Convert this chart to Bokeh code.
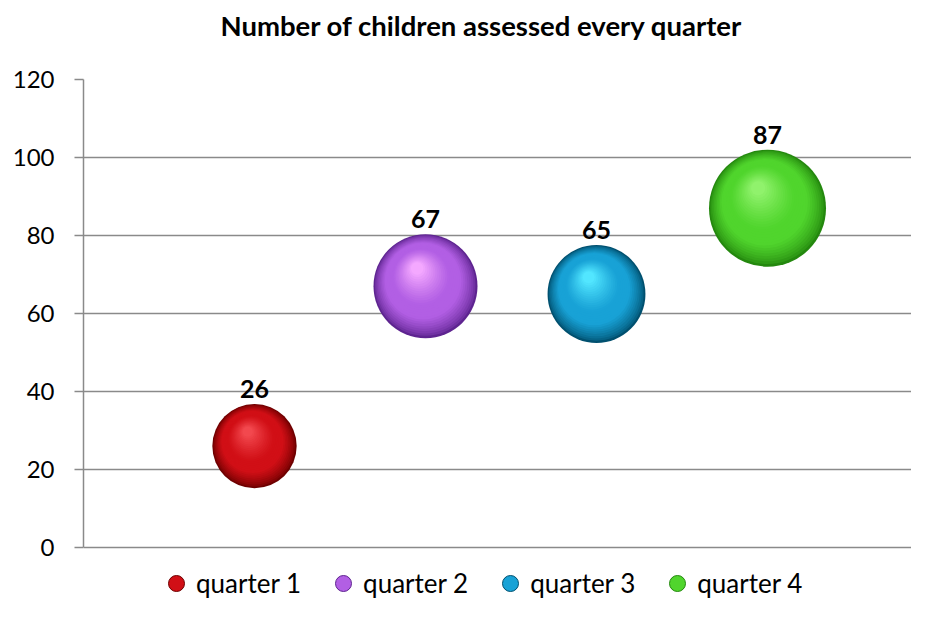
from bokeh.plotting import figure
from bokeh.models import Range1d, FixedTicker, Legend, LegendItem, Title
from bokeh.embed import file_html
from bokeh.resources import INLINE
from bokeh.core.properties import value

# ---------------- data ----------------
quarters = ["quarter 1", "quarter 2", "quarter 3", "quarter 4"]
x_pos = [1, 2, 3, 4]
children = [26, 67, 65, 87]
bubble_size = [0.52, 0.79, 0.70, 1.00]      # relative bubble areas
y_ticks = [0, 20, 40, 60, 80, 100, 120]
title_text = "Number of children assessed every quarter"

# ---------------- layout / style ----------------
W, H = 911, 601
ML, MR, MT, MB = 83, 0, 79, 0
FW, FH = W - ML - MR, H - MT - MB
PX_Y = 3.9                      # pixels per y unit
PX_X = 171.0                    # pixels per x unit
X_END = FW / PX_X
Y_END = 120
Y_START = Y_END - FH / PX_Y     # extra room below 0 for the legend
MAX_D = 117
GRID = "#8a8a8a"
FONT = "Lato"

# (edge, mid, light) per series
palettes = [
    ("#6e0000", "#d10f16", "#f2484e"),
    ("#5e2490", "#b25fe4", "#f4a8ff"),
    ("#00506f", "#18a2d6", "#52e6ff"),
    ("#24880e", "#50d52d", "#90f26c"),
]


def hex2rgb(h):
    h = h.lstrip("#")
    return tuple(int(h[i:i + 2], 16) for i in (0, 2, 4))


def mix(c1, c2, t):
    a, b = hex2rgb(c1), hex2rgb(c2)
    return "#%02x%02x%02x" % tuple(int(round(a[k] + (b[k] - a[k]) * t)) for k in range(3))


def ramp(pal, t):
    edge, mid, light = pal
    if t < 0.3:
        return mix(edge, mid, (t / 0.3) ** 0.7)
    if t < 0.5:
        return mid
    return mix(mid, light, ((t - 0.5) / 0.5) ** 1.2)


diam = [MAX_D * s ** 0.5 for s in bubble_size]

p = figure(width=W, height=H, x_range=Range1d(0, X_END), y_range=Range1d(Y_START, Y_END),
           output_backend="svg", toolbar_location=None,
           min_border_left=ML, min_border_right=MR, min_border_top=MT, min_border_bottom=MB)
p.background_fill_color = "white"
p.border_fill_color = "white"
p.outline_line_color = None
p.xaxis.visible = False
p.xgrid.visible = False

yax = p.yaxis[0]
yax.ticker = FixedTicker(ticks=y_ticks)
yax.bounds = (0, 120)
yax.major_label_text_font = FONT
yax.major_label_text_font_size = "24px"
yax.major_label_text_color = "#000000"
yax.axis_line_color = GRID
yax.axis_line_width = 1.5
yax.major_tick_line_color = GRID
yax.major_tick_line_width = 1.5
yax.major_tick_out = 9
yax.major_tick_in = 0
yax.minor_tick_out = 0
yax.minor_tick_in = 0
yax.major_label_standoff = 20
p.ygrid.grid_line_color = GRID
p.ygrid.grid_line_width = 1.5

# spacer panel between frame and title, then the title itself
spacer = Title(text=" ", text_font=FONT, text_font_size="27.5px", standoff=3)
p.add_layout(spacer, "above")
main_title = Title(text=title_text, text_font=FONT, text_font_size="27.5px",
                   text_font_style="bold", text_color="#000000",
                   align="left", offset=137, standoff=0)
p.add_layout(main_title, "above")

# ---------------- spheres (layered circles) ----------------
N = 28
for k in range(N):
    t = k / (N - 1)
    f = 1 - 0.88 * t
    xs = [x + (-0.08 * t * d) / PX_X for x, d in zip(x_pos, diam)]
    ys = [y + (0.17 * t * d) / PX_Y for y, d in zip(children, diam)]
    sizes = [d * f for d in diam]
    cols = [ramp(pal, t) for pal in palettes]
    p.scatter(xs, ys, size=sizes, marker="circle", fill_color=cols, line_color=None)

# legend-only renderer (zero size on the plot)
leg_r = p.scatter(x_pos, children, size=0, marker="circle",
                  fill_color=[pal[1] for pal in palettes],
                  line_color=[pal[0] for pal in palettes], line_width=1)

# data labels
p.text(x=x_pos, y=children, text=[str(c) for c in children],
       y_offset=[-(d / 2 + 15) for d in diam],
       text_align="center", text_baseline="alphabetic",
       text_font=value(FONT), text_font_size="25px", text_font_style="bold",
       text_color="#000000")

legend = Legend(items=[LegendItem(label=quarters[i], renderers=[leg_r], index=i) for i in range(4)],
                orientation="horizontal", location=(71, -4),
                glyph_width=40, glyph_height=40, label_standoff=-5, spacing=22,
                padding=2, margin=0, background_fill_alpha=0, border_line_alpha=0,
                label_text_font=FONT, label_text_font_size="26px", label_text_color="#000000")
p.add_layout(legend)

open("out.html", "w").write(file_html(p, INLINE))
